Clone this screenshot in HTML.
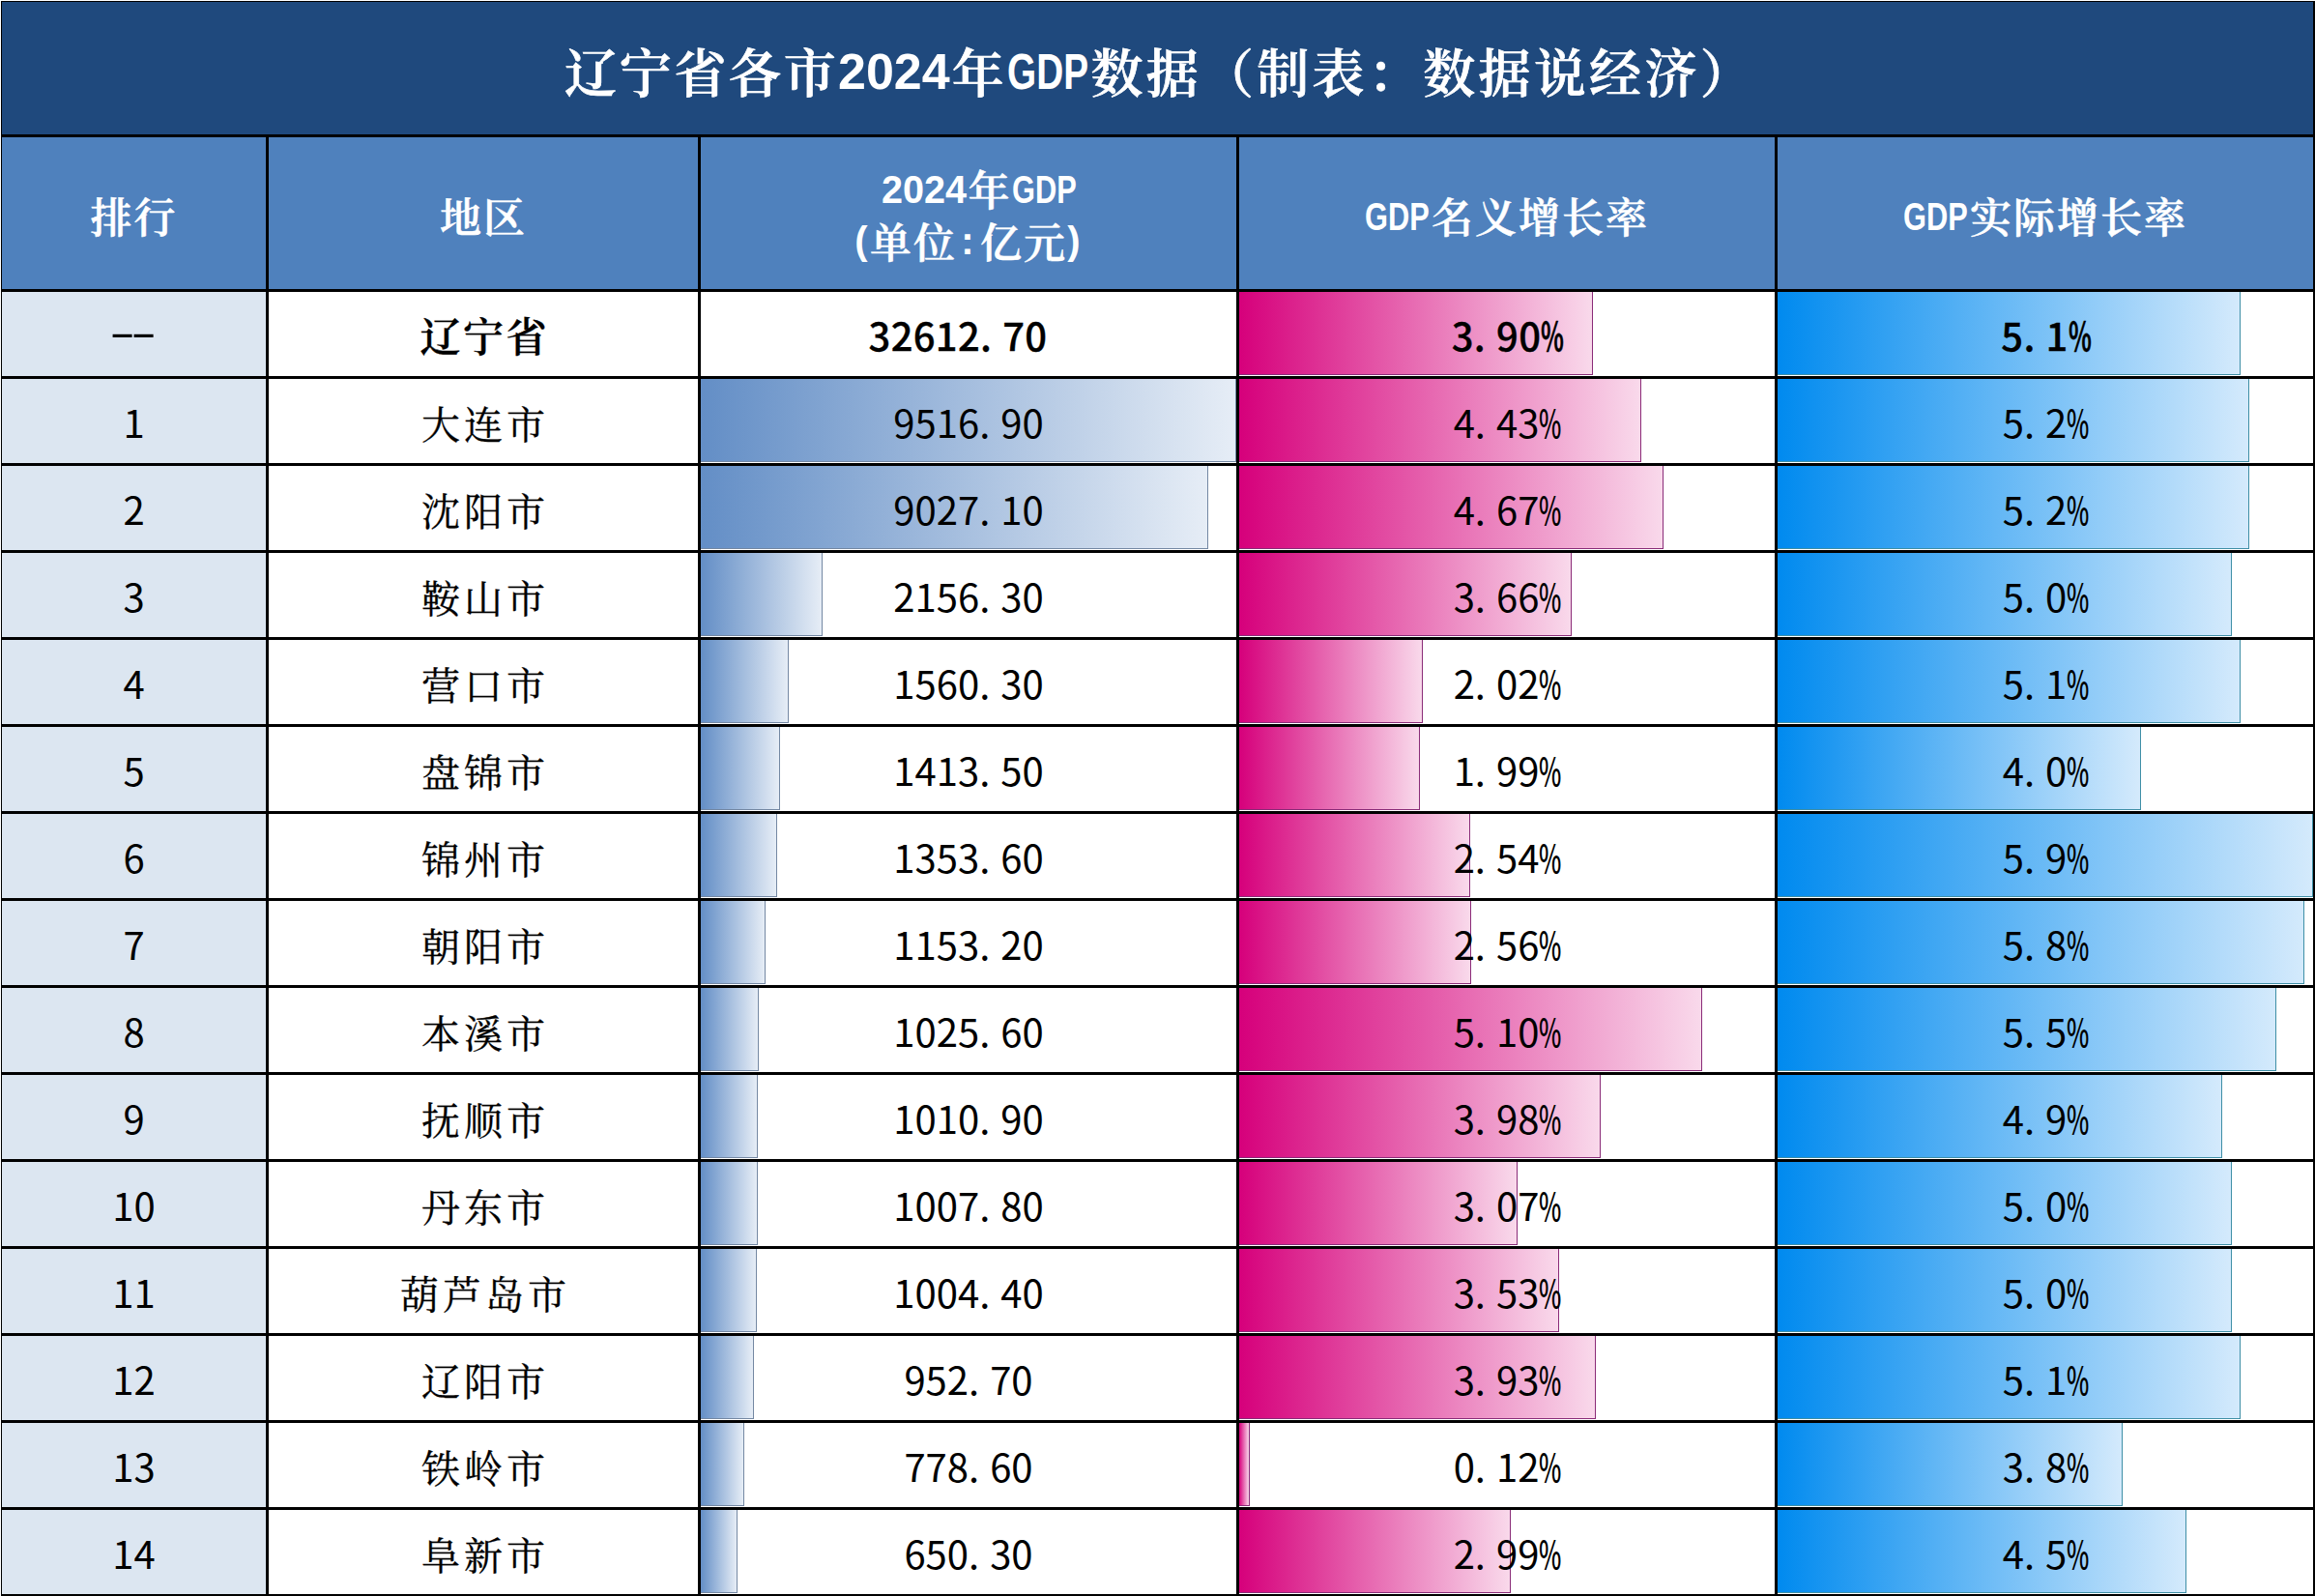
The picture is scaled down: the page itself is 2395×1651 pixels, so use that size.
<!DOCTYPE html>
<html lang="zh-CN"><head><meta charset="utf-8"><title>辽宁省各市2024年GDP数据</title>
<style>
html,body{margin:0;padding:0;background:#fff}
html{overflow:hidden}
body{width:2395px;height:1651px;overflow:hidden}
#page{width:2395px;height:1651px;position:relative;overflow:hidden;font-family:"Liberation Sans","Noto Serif CJK SC",serif;color:#000}
table{position:absolute;left:-1px;top:-1px;border-collapse:separate;border-spacing:3px;background:#000;table-layout:fixed;width:2397px}
td,th{padding:0;margin:0;border:0;font-weight:normal}
.edge{position:absolute;background:#fff}
.w{position:relative;overflow:hidden;width:100%}
.ttl .w{height:137px;background:#1F497D}
.hd .w{height:157px;background:#4F81BD}
.r .w{height:87px;background:#fff}
.r .rk .w{background:#DCE6F1}
.t{position:absolute;left:0;width:100%;white-space:nowrap;text-align:center;height:60px;line-height:60px}
.bar{position:absolute;left:0;top:0;height:86px;box-sizing:border-box;border-style:solid;border-width:0 1px 1px 0}
.b1{background:linear-gradient(90deg,#638EC6,#E6EDF6);border-color:#7488a3}
.b2{background:linear-gradient(90deg,#D6007B,#F9D9EB);border-color:#8a2c78}
.b3{background:linear-gradient(90deg,#008AEF,#D4EAFC);border-color:#3f8fa6}
.lb{display:inline-block;white-space:nowrap;transform-origin:0 50%;text-align:left;-webkit-text-stroke:0;letter-spacing:0;position:relative}
.ttl .t{top:25px;height:100px;line-height:100px;color:#fff;font-weight:600;font-size:54px;letter-spacing:3.3px;-webkit-text-stroke:0.7px #fff;left:0px}
.ttl .lb{font-size:51px;top:-4px;margin-right:3.3px}
.hd .t{color:#fff;font-weight:600;font-size:43px;letter-spacing:2.0px;-webkit-text-stroke:0.5px #fff}
.hd .lb{font-size:40px;top:-3px;margin-right:2.0px}
.hd .pp{font-size:40px;width:22px;font-weight:700;text-align:center;top:-4px}
.n{font-family:"Noto Sans CJK SC","Liberation Sans",sans-serif;font-size:40px;letter-spacing:0px;top:13.5px}
.city{font-size:40px;letter-spacing:4px;font-weight:400;margin-left:2.0px;-webkit-text-stroke:0.3px #000;top:17.5px}
.prov .city{font-size:42px;letter-spacing:2.5px;font-weight:600;margin-left:1.25px;-webkit-text-stroke:0.3px #000}
.prov .n{font-weight:500;-webkit-text-stroke:0.3px #000;letter-spacing:0.3px}
.prov .rk .n{font-weight:normal;-webkit-text-stroke:0;letter-spacing:0}
.prov .pc{font-weight:700}
.p{margin-right:11px}
.pc{font-weight:500;display:inline-block;transform:scaleX(0.62);transform-origin:0 50%;width:22px;letter-spacing:0;text-align:left}
.hy{display:inline-block;transform:scaleX(1.7);transform-origin:0 50%;width:22px;letter-spacing:0;text-align:left;position:relative;top:-6px;left:-4px;font-size:46px}

</style></head><body><div id="page">
<table><colgroup><col style="width:273px"><col style="width:444px"><col style="width:554px"><col style="width:554px"><col style="width:554px"></colgroup>
<thead><tr class="ttl"><th colspan="5"><div class="w"><div class="t"><span style="letter-spacing:2.7px;margin-left:5px">辽宁省各市</span><span class="lb" style="width:114px;transform:scaleX(1.02);">2024</span>年<span class="lb" style="width:83px;transform:scaleX(0.76);">GDP</span>数据（制表：数据说经济）</div></div></th></tr>
<tr class="hd">
<th><div class="w"><div class="t" style="top:54px;">排行</div></div></th>
<th><div class="w"><div class="t" style="top:54px;">地区</div></div></th>
<th><div class="w"><div class="t" style="top:26px;margin-left:11.5px"><span class="lb" style="width:88px;transform:scaleX(0.99);">2024</span>年<span class="lb" style="width:67px;transform:scaleX(0.77);">GDP</span></div><div class="t" style="top:80px;"><span class="lb pp" style="left:4px">(</span>单位<span class="lb pp" style="left:0px">:</span>亿元<span class="lb pp" style="left:-4px">)</span></div></div></th>
<th><div class="w"><div class="t" style="top:54px;"><span class="lb" style="width:67px;transform:scaleX(0.77);">GDP</span>名义增长率</div></div></th>
<th><div class="w"><div class="t" style="top:54px;"><span class="lb" style="width:67px;transform:scaleX(0.77);">GDP</span>实际增长率</div></div></th>
</tr></thead><tbody>
<tr class="r prov">
<td class="rk"><div class="w"><div class="t n"><span class="hy">-</span><span class="hy">-</span></div></div></td>
<td><div class="w"><div class="t city">辽宁省</div></div></td>
<td><div class="w"><div class="t n" style="margin-left:-11px">32612<span class="p">.</span>70</div></div></td>
<td><div class="w"><div class="bar b2" style="width:366px"></div><div class="t n">3<span class="p">.</span>90<span class="pc">%</span></div></div></td>
<td><div class="w"><div class="bar b3" style="width:479px"></div><div class="t n">5<span class="p">.</span>1<span class="pc">%</span></div></div></td>
</tr>
<tr class="r">
<td class="rk"><div class="w"><div class="t n">1</div></div></td>
<td><div class="w"><div class="t city">大连市</div></div></td>
<td><div class="w"><div class="bar b1" style="width:554px"></div><div class="t n">9516<span class="p">.</span>90</div></div></td>
<td><div class="w"><div class="bar b2" style="width:416px"></div><div class="t n">4<span class="p">.</span>43<span class="pc">%</span></div></div></td>
<td><div class="w"><div class="bar b3" style="width:488px"></div><div class="t n">5<span class="p">.</span>2<span class="pc">%</span></div></div></td>
</tr>
<tr class="r">
<td class="rk"><div class="w"><div class="t n">2</div></div></td>
<td><div class="w"><div class="t city">沈阳市</div></div></td>
<td><div class="w"><div class="bar b1" style="width:525px"></div><div class="t n">9027<span class="p">.</span>10</div></div></td>
<td><div class="w"><div class="bar b2" style="width:439px"></div><div class="t n">4<span class="p">.</span>67<span class="pc">%</span></div></div></td>
<td><div class="w"><div class="bar b3" style="width:488px"></div><div class="t n">5<span class="p">.</span>2<span class="pc">%</span></div></div></td>
</tr>
<tr class="r">
<td class="rk"><div class="w"><div class="t n">3</div></div></td>
<td><div class="w"><div class="t city">鞍山市</div></div></td>
<td><div class="w"><div class="bar b1" style="width:126px"></div><div class="t n">2156<span class="p">.</span>30</div></div></td>
<td><div class="w"><div class="bar b2" style="width:344px"></div><div class="t n">3<span class="p">.</span>66<span class="pc">%</span></div></div></td>
<td><div class="w"><div class="bar b3" style="width:470px"></div><div class="t n">5<span class="p">.</span>0<span class="pc">%</span></div></div></td>
</tr>
<tr class="r">
<td class="rk"><div class="w"><div class="t n">4</div></div></td>
<td><div class="w"><div class="t city">营口市</div></div></td>
<td><div class="w"><div class="bar b1" style="width:91px"></div><div class="t n">1560<span class="p">.</span>30</div></div></td>
<td><div class="w"><div class="bar b2" style="width:190px"></div><div class="t n">2<span class="p">.</span>02<span class="pc">%</span></div></div></td>
<td><div class="w"><div class="bar b3" style="width:479px"></div><div class="t n">5<span class="p">.</span>1<span class="pc">%</span></div></div></td>
</tr>
<tr class="r">
<td class="rk"><div class="w"><div class="t n">5</div></div></td>
<td><div class="w"><div class="t city">盘锦市</div></div></td>
<td><div class="w"><div class="bar b1" style="width:82px"></div><div class="t n">1413<span class="p">.</span>50</div></div></td>
<td><div class="w"><div class="bar b2" style="width:187px"></div><div class="t n">1<span class="p">.</span>99<span class="pc">%</span></div></div></td>
<td><div class="w"><div class="bar b3" style="width:376px"></div><div class="t n">4<span class="p">.</span>0<span class="pc">%</span></div></div></td>
</tr>
<tr class="r">
<td class="rk"><div class="w"><div class="t n">6</div></div></td>
<td><div class="w"><div class="t city">锦州市</div></div></td>
<td><div class="w"><div class="bar b1" style="width:79px"></div><div class="t n">1353<span class="p">.</span>60</div></div></td>
<td><div class="w"><div class="bar b2" style="width:239px"></div><div class="t n">2<span class="p">.</span>54<span class="pc">%</span></div></div></td>
<td><div class="w"><div class="bar b3" style="width:554px"></div><div class="t n">5<span class="p">.</span>9<span class="pc">%</span></div></div></td>
</tr>
<tr class="r">
<td class="rk"><div class="w"><div class="t n">7</div></div></td>
<td><div class="w"><div class="t city">朝阳市</div></div></td>
<td><div class="w"><div class="bar b1" style="width:67px"></div><div class="t n">1153<span class="p">.</span>20</div></div></td>
<td><div class="w"><div class="bar b2" style="width:240px"></div><div class="t n">2<span class="p">.</span>56<span class="pc">%</span></div></div></td>
<td><div class="w"><div class="bar b3" style="width:545px"></div><div class="t n">5<span class="p">.</span>8<span class="pc">%</span></div></div></td>
</tr>
<tr class="r">
<td class="rk"><div class="w"><div class="t n">8</div></div></td>
<td><div class="w"><div class="t city">本溪市</div></div></td>
<td><div class="w"><div class="bar b1" style="width:60px"></div><div class="t n">1025<span class="p">.</span>60</div></div></td>
<td><div class="w"><div class="bar b2" style="width:479px"></div><div class="t n">5<span class="p">.</span>10<span class="pc">%</span></div></div></td>
<td><div class="w"><div class="bar b3" style="width:516px"></div><div class="t n">5<span class="p">.</span>5<span class="pc">%</span></div></div></td>
</tr>
<tr class="r">
<td class="rk"><div class="w"><div class="t n">9</div></div></td>
<td><div class="w"><div class="t city">抚顺市</div></div></td>
<td><div class="w"><div class="bar b1" style="width:59px"></div><div class="t n">1010<span class="p">.</span>90</div></div></td>
<td><div class="w"><div class="bar b2" style="width:374px"></div><div class="t n">3<span class="p">.</span>98<span class="pc">%</span></div></div></td>
<td><div class="w"><div class="bar b3" style="width:460px"></div><div class="t n">4<span class="p">.</span>9<span class="pc">%</span></div></div></td>
</tr>
<tr class="r">
<td class="rk"><div class="w"><div class="t n">10</div></div></td>
<td><div class="w"><div class="t city">丹东市</div></div></td>
<td><div class="w"><div class="bar b1" style="width:59px"></div><div class="t n">1007<span class="p">.</span>80</div></div></td>
<td><div class="w"><div class="bar b2" style="width:288px"></div><div class="t n">3<span class="p">.</span>07<span class="pc">%</span></div></div></td>
<td><div class="w"><div class="bar b3" style="width:470px"></div><div class="t n">5<span class="p">.</span>0<span class="pc">%</span></div></div></td>
</tr>
<tr class="r">
<td class="rk"><div class="w"><div class="t n">11</div></div></td>
<td><div class="w"><div class="t city">葫芦岛市</div></div></td>
<td><div class="w"><div class="bar b1" style="width:58px"></div><div class="t n">1004<span class="p">.</span>40</div></div></td>
<td><div class="w"><div class="bar b2" style="width:331px"></div><div class="t n">3<span class="p">.</span>53<span class="pc">%</span></div></div></td>
<td><div class="w"><div class="bar b3" style="width:470px"></div><div class="t n">5<span class="p">.</span>0<span class="pc">%</span></div></div></td>
</tr>
<tr class="r">
<td class="rk"><div class="w"><div class="t n">12</div></div></td>
<td><div class="w"><div class="t city">辽阳市</div></div></td>
<td><div class="w"><div class="bar b1" style="width:55px"></div><div class="t n">952<span class="p">.</span>70</div></div></td>
<td><div class="w"><div class="bar b2" style="width:369px"></div><div class="t n">3<span class="p">.</span>93<span class="pc">%</span></div></div></td>
<td><div class="w"><div class="bar b3" style="width:479px"></div><div class="t n">5<span class="p">.</span>1<span class="pc">%</span></div></div></td>
</tr>
<tr class="r">
<td class="rk"><div class="w"><div class="t n">13</div></div></td>
<td><div class="w"><div class="t city">铁岭市</div></div></td>
<td><div class="w"><div class="bar b1" style="width:45px"></div><div class="t n">778<span class="p">.</span>60</div></div></td>
<td><div class="w"><div class="bar b2" style="width:11px"></div><div class="t n">0<span class="p">.</span>12<span class="pc">%</span></div></div></td>
<td><div class="w"><div class="bar b3" style="width:357px"></div><div class="t n">3<span class="p">.</span>8<span class="pc">%</span></div></div></td>
</tr>
<tr class="r">
<td class="rk"><div class="w"><div class="t n">14</div></div></td>
<td><div class="w"><div class="t city">阜新市</div></div></td>
<td><div class="w"><div class="bar b1" style="width:38px"></div><div class="t n">650<span class="p">.</span>30</div></div></td>
<td><div class="w"><div class="bar b2" style="width:281px"></div><div class="t n">2<span class="p">.</span>99<span class="pc">%</span></div></div></td>
<td><div class="w"><div class="bar b3" style="width:423px"></div><div class="t n">4<span class="p">.</span>5<span class="pc">%</span></div></div></td>
</tr>
</tbody></table>
<div class="edge" style="left:0;top:0;width:1px;height:1651px"></div><div class="edge" style="left:0;top:0;width:2395px;height:1px"></div>
</div></body></html>
